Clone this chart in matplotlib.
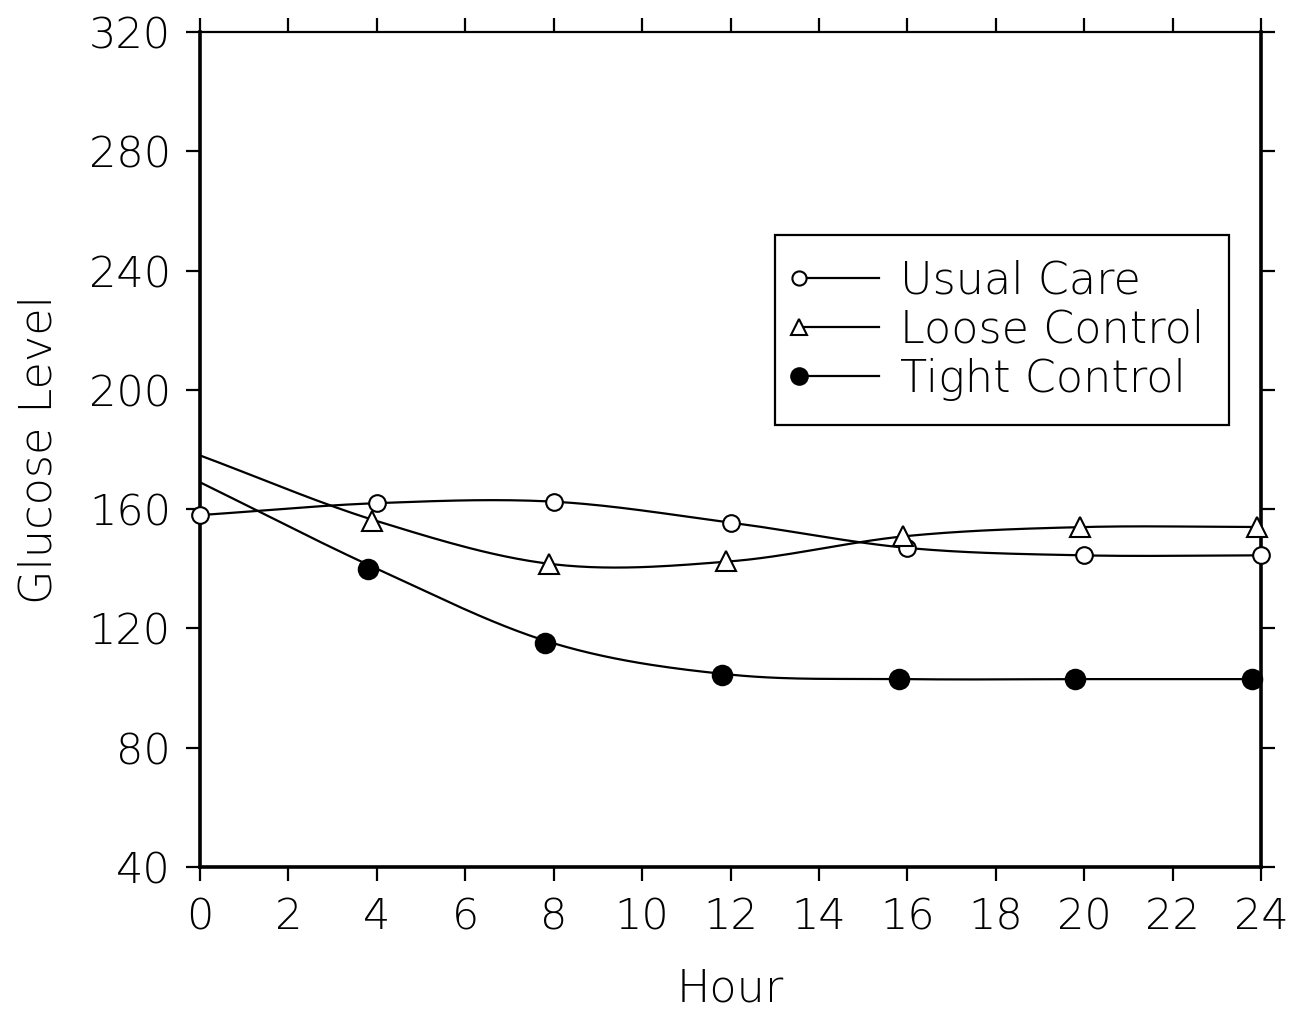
import numpy as np
import matplotlib
matplotlib.use("Agg")
import matplotlib.pyplot as plt
from matplotlib.legend_handler import HandlerLine2DCompound

hours = [0, 4, 8, 12, 16, 20, 24]
usual_care = [158, 162, 162.5, 155.5, 147, 144.5, 144.5]
loose_control = [178, 156, 141.5, 142.5, 151, 154, 154]
tight_control = [169, 140, 115, 104.5, 103, 103, 103]
marker_offsets = {"Usual Care": 0.0, "Loose Control": -0.1, "Tight Control": -0.2}
xticks = list(range(0, 25, 2))
yticks = list(range(40, 321, 40))


def smooth(x, y, n=30):
    x = np.asarray(x, float)
    y = np.asarray(y, float)
    xs, ys = [], []
    m = np.gradient(y, x)
    for i in range(len(x) - 1):
        t = np.linspace(0, 1, n)
        h = x[i + 1] - x[i]
        h00 = 2 * t**3 - 3 * t**2 + 1
        h10 = t**3 - 2 * t**2 + t
        h01 = -2 * t**3 + 3 * t**2
        h11 = t**3 - t**2
        xs.append(x[i] + t * h)
        ys.append(h00 * y[i] + h10 * h * m[i] + h01 * y[i + 1] + h11 * h * m[i + 1])
    return np.concatenate(xs), np.concatenate(ys)


class LeftMarkerHandler(HandlerLine2DCompound):
    def create_artists(self, legend, orig_handle, xdescent, ydescent,
                       width, height, fontsize, trans):
        arts = super().create_artists(legend, orig_handle, xdescent, ydescent,
                                      width, height, fontsize, trans)
        line = arts[0]
        xd = line.get_xdata()
        yd = line.get_ydata()
        for a in arts[1:]:
            a.set_xdata([xd[0]])
            a.set_ydata([yd[0]])
        return arts


plt.rcParams['font.family'] = ['DejaVu Sans']
fig = plt.figure(figsize=(13.05, 10.10), dpi=100)
ax = fig.add_axes([0.1533, 0.1416, 0.9663 - 0.1533, 0.9683 - 0.1416])

series = [
    ("Usual Care", usual_care, dict(marker='o', mfc='white', mec='black', ms=12, mew=1.5), True),
    ("Loose Control", loose_control, dict(marker='^', mfc='white', mec='black', ms=14, mew=1.5), False),
    ("Tight Control", tight_control, dict(marker='o', mfc='black', mec='black', ms=14, mew=1.5), False),
]
handles = []
for name, vals, mk, first_marker in series:
    sx, sy = smooth(hours, vals)
    ax.plot(sx, sy, color='black', lw=1.6, zorder=2)
    hx = np.array(hours, float) + marker_offsets[name]
    hy = np.array(vals, float)
    if not first_marker:
        hx, hy = hx[1:], hy[1:]
    if name != "Usual Care":
        hx[-1] = min(hx[-1], 23.9)
    ax.plot(hx, hy, ls='none', zorder=3, clip_on=False, **mk)
    lmk = dict(mk)
    lmk['ms'] = mk['ms'] * 0.85
    h, = ax.plot([], [], color='black', lw=1.6, **lmk)
    handles.append(h)

ax.set_xlim(0, 24)
ax.set_ylim(40, 320)
ax.set_xticks(xticks)
ax.set_yticks(yticks)
ax.tick_params(axis='both', direction='out', length=10, width=1.6, labelsize=31, pad=11)
ax.tick_params(axis='x', top=True, labeltop=False)
ax.tick_params(axis='y', right=True, labelright=False)
for s in ['left', 'right', 'bottom']:
    ax.spines[s].set_linewidth(2.6)
ax.spines['top'].set_linewidth(1.6)
for lab in ax.get_xticklabels() + ax.get_yticklabels():
    lab.set_fontweight('light')

ax.set_xlabel("Hour", fontsize=32, fontweight='light', labelpad=22)
ax.set_ylabel("Glucose Level", fontsize=32, fontweight='light', labelpad=20)

leg = ax.legend(handles, ["Usual Care", "Loose Control", "Tight Control"],
                loc='upper left', bbox_to_anchor=(775 / 1305, 1 - 235 / 1010),
                bbox_transform=fig.transFigure, borderaxespad=0,
                frameon=True, fancybox=False, edgecolor='black', handlelength=1.8,
                handletextpad=0.47, labelspacing=0.14, borderpad=0.55,
                handler_map={h: LeftMarkerHandler() for h in handles},
                prop={'weight': 'light', 'size': 32})
leg.get_frame().set_linewidth(1.6)
leg.get_frame().set_alpha(1)

fig.savefig("out.png", dpi=100)
